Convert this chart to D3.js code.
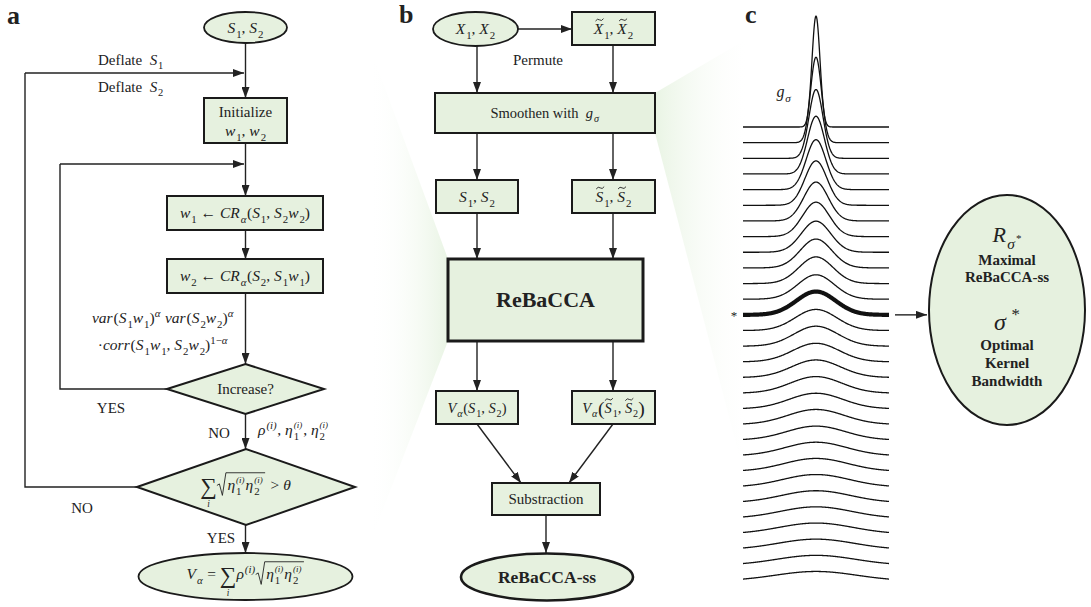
<!DOCTYPE html>
<html>
<head>
<meta charset="utf-8">
<script src="https://cdn.jsdelivr.net/npm/d3@7"></script>
<style>
  body { margin: 0; background: #fff; }
  svg { display: block; }
  text { font-family: "Liberation Serif", "DejaVu Serif", serif; fill: #222; }
</style>
</head>
<body>
<div id="chart"></div>
<script>
// ---- labels (token lists: [text, kind]) ----
const lblS12 = [['S','i'],['1','sub'],[', ','n'],['S','i'],['2','sub']];
const lblDeflate1 = [['Deflate  ','n'],['S','i'],['1','sub']];
const lblDeflate2 = [['Deflate  ','n'],['S','i'],['2','sub']];
const lblInit = [['Initialize','n']];
const lblW12 = [['w','i'],['1','sub'],[', ','n'],['w','i'],['2','sub']];
const lblStep1 = [['w','i'],['1','sub'],[' ← ','n'],['CR','i'],['α','isub'],['(','n'],['S','i'],['1','sub'],[', ','n'],['S','i'],['2','sub'],['w','i'],['2','sub'],[')','n']];
const lblStep2 = [['w','i'],['2','sub'],[' ← ','n'],['CR','i'],['α','isub'],['(','n'],['S','i'],['2','sub'],[', ','n'],['S','i'],['1','sub'],['w','i'],['1','sub'],[')','n']];
const lblVar = [['var','i'],['(','n'],['S','i'],['1','sub'],['w','i'],['1','sub'],[')','n'],['α','isup'],[' ','n'],['var','i'],['(','n'],['S','i'],['2','sub'],['w','i'],['2','sub'],[')','n'],['α','isup']];
const lblCorr = [['·','n'],['corr','i'],['(','n'],['S','i'],['1','sub'],['w','i'],['1','sub'],[', ','n'],['S','i'],['2','sub'],['w','i'],['2','sub'],[')','n'],['1−','sup'],['α','isup']];
const lblIncrease = [['Increase?','n']];
const lblRho = [['ρ','i'],['(i)','isup'],[', ','n'],['η','i'],['1','sub'],['(i)','supx'],[', ','n'],['η','i'],['2','sub'],['(i)','supx']];
const etaProd = [['η','i'],['1','sub'],['(i)','supx'],['η','i'],['2','sub'],['(i)','supx']];
const lblCrit = [['∑','big'],['i','below'],{sqrt: etaProd},[' > ','n'],['θ','i']];
const lblVout = [['V','i'],['α','isub'],[' = ','n'],['∑','big'],['i','below'],['ρ','i'],['(i)','isup'],{sqrt: etaProd}];

const lblX12 = [['X','i'],['1','sub'],[', ','n'],['X','i'],['2','sub']];
const lblXt12 = [['X','ti'],['1','sub'],[', ','n'],['X','ti'],['2','sub']];
const lblPermute = [['Permute','n']];
const lblSmooth = [['Smoothen with  ','n'],['g','i'],['σ','isub']];
const lblSt12 = [['S','ti'],['1','sub'],[', ','n'],['S','ti'],['2','sub']];
const lblReBaCCA = [['ReBaCCA','b']];
const lblV12 = [['V','i'],['α','isub'],['(','n'],['S','i'],['1','sub'],[', ','n'],['S','i'],['2','sub'],[')','n']];
const lblVt12 = [['V','i'],['α','isub'],['(','bigp'],['S','ti'],['1','sub'],[', ','n'],['S','ti'],['2','sub'],[')','bigp']];
const lblSubtr = [['Substraction','n']];
const lblSS = [['ReBaCCA-ss','b']];

const lblG = [['g','i'],['σ','isub']];
const lblR = [['R','i'],['σ','isub'],['*','ssup']];
const lblSigma = [['σ','i'],[' *','sup']];
const lblMax = ['Maximal', 'ReBaCCA-ss'];
const lblOpt = ['Optimal', 'Kernel', 'Bandwidth'];

// ---- kernel family (panel c) ----
const kernelSigma = [4.0, 5.5, 7.0, 8.5, 9.8, 11.0, 12.2, 13.4, 14.6, 15.8, 17.0, 18.2, 19.6, 20.8, 22.0, 23.3, 24.5, 25.8, 27.0, 28.3, 29.5, 30.8, 32.0, 33.3, 34.5, 35.8, 37.0, 38.3, 39.5, 40.8];
const kernelPeak = [1.00, 0.77, 0.62, 0.52, 0.45, 0.40, 0.35, 0.31, 0.28, 0.26, 0.24, 0.22, 0.21, 0.19, 0.18, 0.167, 0.158, 0.149, 0.14, 0.135, 0.126, 0.122, 0.117, 0.113, 0.108, 0.104, 0.099, 0.095, 0.09, 0.086];
const kernelBest = 12;

const W = 1091, H = 607;
const boxFill = "#e6f1df";
const ink = "#222";
const serif = '"Liberation Serif", "DejaVu Serif", serif';

const svg = d3.select("#chart").append("svg").attr("width", W).attr("height", H);
const defs = svg.append("defs");

defs.append("marker").attr("id", "arr")
  .attr("markerUnits", "userSpaceOnUse")
  .attr("markerWidth", 12).attr("markerHeight", 8)
  .attr("refX", 11).attr("refY", 4).attr("orient", "auto")
  .append("path").attr("d", "M0,0 L11,4 L0,8 z").attr("fill", ink);

const gl = defs.append("linearGradient").attr("id", "wedgeL");
gl.append("stop").attr("offset", "0").attr("stop-color", "#ffffff").attr("stop-opacity", 0);
gl.append("stop").attr("offset", "1").attr("stop-color", "#e9f4e4");
const gr = defs.append("linearGradient").attr("id", "wedgeR");
gr.append("stop").attr("offset", "0").attr("stop-color", "#e9f4e4");
gr.append("stop").attr("offset", "1").attr("stop-color", "#ffffff").attr("stop-opacity", 0.2);

// ---- math text helpers ----
const kinds = {
  n:    { s: 1,    dy: 0 },
  i:    { s: 1,    dy: 0, it: 1 },
  b:    { s: 1,    dy: 0, b: 1 },
  ti:   { s: 1,    dy: 0, it: 1 },
  sub:  { s: 0.7,  dy: 0.3 },
  isub: { s: 0.7,  dy: 0.3, it: 1 },
  sup:  { s: 0.7,  dy: -0.42 },
  isup: { s: 0.7,  dy: -0.42, it: 1 },
  supx: { s: 0.58, dy: -0.45, it: 1 },
  ssup: { s: 0.5,  dy: -0.02 },
  big:  { s: 1.5,  dy: 0.24 },
  below:{ s: 0.6,  dy: 1.08, it: 1 },
  bigp: { s: 1.35, dy: 0.12 }
};

function mrow(g, toks, x, fs) {
  let lastStart = x, lastW = 0;
  toks.forEach(tk => {
    if (tk.sqrt) {
      const x1 = x + 9;
      const x2 = mrow(g, tk.sqrt, x1 + 1.5, fs);
      g.append("path")
        .attr("d", `M${x},${-0.3*fs} L${x+2.5},${-0.4*fs} L${x+5.5},${0.34*fs} L${x1},${-1.12*fs} H${x2+1.5}`)
        .attr("fill", "none").attr("stroke", ink).attr("stroke-width", 0.9);
      x = x2 + 3;
      return;
    }
    const [t, k] = tk;
    const st = kinds[k];
    const size = fs * st.s;
    const el = g.append("text")
      .attr("font-family", serif)
      .attr("font-size", size)
      .attr("font-style", st.it ? "italic" : "normal")
      .attr("font-weight", st.b ? "bold" : "normal")
      .attr("y", st.dy * fs)
      .style("white-space", "pre")
      .text(t);
    const w = el.node().getComputedTextLength();
    if (k === "below") {
      el.attr("x", lastStart + lastW / 2).attr("text-anchor", "middle");
      return;
    }
    if (k === "supx") {
      el.attr("x", lastStart);
      x = Math.max(x, lastStart + w + 1);
      return;
    }
    el.attr("x", x);
    if (k === "ti") {
      const cx = x + w * 0.6, ty = -0.92 * fs;
      g.append("path")
        .attr("d", `M${cx-4},${ty+1.2} Q${cx-2},${ty-1.8} ${cx},${ty} T${cx+4},${ty-1.2}`)
        .attr("fill", "none").attr("stroke", ink).attr("stroke-width", 0.9);
    }
    lastStart = x; lastW = w;
    x += w + (st.it ? 0.06 * size : 0);
  });
  return x;
}

function mathLabel(parent, cx, cy, toks, fs, anchor) {
  const g = parent.append("g");
  const w = mrow(g, toks, 0, fs);
  const x0 = anchor === "start" ? cx : anchor === "end" ? cx - w : cx - w / 2;
  g.attr("transform", `translate(${x0},${cy + fs * 0.33})`);
  return g;
}

// ---- shape helpers ----
function box(x, y, w, h, sw) {
  svg.append("rect").attr("x", x).attr("y", y).attr("width", w).attr("height", h)
    .attr("fill", boxFill).attr("stroke", "#1a1a1a").attr("stroke-width", sw || 2);
}
function oval(cx, cy, rx, ry, sw) {
  svg.append("ellipse").attr("cx", cx).attr("cy", cy).attr("rx", rx).attr("ry", ry)
    .attr("fill", boxFill).attr("stroke", "#1a1a1a").attr("stroke-width", sw || 1.8);
}
function diamond(cx, cy, hw, hh) {
  svg.append("path").attr("d", `M${cx-hw},${cy} L${cx},${cy-hh} L${cx+hw},${cy} L${cx},${cy+hh} Z`)
    .attr("fill", boxFill).attr("stroke", "#1a1a1a").attr("stroke-width", 2);
}
function wire(pts, arrow) {
  const p = svg.append("path").attr("d", d3.line()(pts))
    .attr("fill", "none").attr("stroke", ink).attr("stroke-width", 1.4);
  if (arrow) p.attr("marker-end", "url(#arr)");
}

// ---- zoom wedges ----
svg.append("polygon").attr("points", "368,42 448,259 448,341 368,548").attr("fill", "url(#wedgeL)");
svg.append("polygon").attr("points", "655,93 745,40 745,478 655,133").attr("fill", "url(#wedgeR)");

// ---- panel labels ----
[["a", 7, 23.5], ["b", 399, 23], ["c", 745, 23]].forEach(([t, x, y]) => {
  svg.append("text").attr("x", x).attr("y", y).attr("font-family", serif)
    .attr("font-size", 26).attr("font-weight", "bold").text(t);
});

// ================= panel a =================
const fsA = 15.5;
wire([[245.5, 43], [245.5, 98]], true);
wire([[25, 73], [244, 73]], true);
wire([[245.5, 143], [245.5, 196]], true);
wire([[60, 164], [244, 164]], true);
wire([[245.5, 230], [245.5, 259]], true);
wire([[245.5, 293], [245.5, 364]], true);
wire([[167, 389], [60, 389], [60, 164]], false);
wire([[245.5, 414], [245.5, 449]], true);
wire([[137, 487], [25, 487], [25, 73]], false);
wire([[245.5, 525], [245.5, 553]], true);

oval(245.5, 27.5, 41.5, 15.5);
mathLabel(svg, 245.5, 28, lblS12, fsA);
mathLabel(svg, 98, 60, lblDeflate1, 15, "start");
mathLabel(svg, 98, 87, lblDeflate2, 15, "start");

box(204, 98, 83, 45);
mathLabel(svg, 245.5, 112, lblInit, 15);
mathLabel(svg, 245.5, 131, lblW12, fsA);

box(167, 196, 156, 34);
mathLabel(svg, 245, 213, lblStep1, fsA);
box(167, 259, 156, 34);
mathLabel(svg, 245, 276, lblStep2, fsA);

mathLabel(svg, 163, 318, lblVar, fsA);
mathLabel(svg, 163, 345, lblCorr, fsA);

diamond(245.5, 389, 78.5, 25);
mathLabel(svg, 245.5, 389, lblIncrease, 15);
mathLabel(svg, 111, 408, [['YES','n']], 15);
mathLabel(svg, 219, 433, [['NO','n']], 15);
mathLabel(svg, 258, 430, lblRho, fsA, "start");

diamond(246, 487, 109, 38);
mathLabel(svg, 246, 485, lblCrit, fsA);
mathLabel(svg, 82, 508, [['NO','n']], 15);
mathLabel(svg, 221, 538, [['YES','n']], 15);

oval(245.5, 576.5, 107, 23.5);
mathLabel(svg, 246, 574, lblVout, fsA);

// ================= panel b =================
wire([[518, 29], [572, 29]], true);
wire([[477, 46], [477, 93]], true);
wire([[613, 45], [613, 93]], true);
wire([[477, 133], [477, 180]], true);
wire([[613, 133], [613, 180]], true);
wire([[477, 213], [477, 259]], true);
wire([[613, 213], [613, 259]], true);
wire([[477, 341], [477, 391]], true);
wire([[613, 341], [613, 391]], true);
wire([[477, 424], [521, 483]], true);
wire([[613, 424], [569, 483]], true);
wire([[546, 515], [546, 553]], true);

oval(475.5, 29, 42.5, 17);
mathLabel(svg, 475.5, 29, lblX12, fsA);
box(572, 12, 83, 33);
mathLabel(svg, 613.5, 29, lblXt12, fsA);
mathLabel(svg, 538, 60, lblPermute, 15);

box(435, 93, 220, 40);
mathLabel(svg, 545, 113, lblSmooth, 14.5);

box(436, 180, 82, 33);
mathLabel(svg, 477, 197, lblS12, fsA);
box(572, 180, 83, 33);
mathLabel(svg, 613.5, 197, lblSt12, fsA);

box(448, 259, 195, 82, 3);
mathLabel(svg, 545.5, 300, lblReBaCCA, 22);

box(436, 391, 82, 33);
mathLabel(svg, 477, 408, lblV12, 14.5);
box(572, 391, 83, 33);
mathLabel(svg, 613.5, 408, lblVt12, 14.5);

box(492, 483, 108, 32);
mathLabel(svg, 546, 499, lblSubtr, 15);

oval(547, 577, 86, 23.5, 2.6);
mathLabel(svg, 547, 577, lblSS, 17.5);

// ================= panel c =================
const xK = d3.scaleLinear().domain([-73, 73]).range([743, 889]);
const yBase = d3.scaleLinear().domain([0, kernelSigma.length - 1]).range([127, 581]);
const amp = d3.scaleLinear().domain([0, 1]).range([0, 111]);
const offsets = d3.range(-73, 73.5, 0.5);

const curves = svg.append("g");
kernelSigma.forEach((sg, k) => {
  const line = d3.line()
    .x(d => xK(d))
    .y(d => yBase(k) - amp(kernelPeak[k] * Math.exp(-d * d / (2 * sg * sg))));
  curves.append("path")
    .attr("d", line(offsets))
    .attr("fill", "none")
    .attr("stroke", "#111")
    .attr("stroke-width", k === kernelBest ? 4.2 : 1.3)
    .attr("stroke-linejoin", "round");
});

mathLabel(svg, 784, 92, lblG, 16);
svg.append("text").attr("x", 734).attr("y", 320).attr("text-anchor", "middle")
  .attr("font-family", serif).attr("font-size", 13).text("*");
wire([[895, yBase(kernelBest)], [927, yBase(kernelBest)]], true);

oval(1007, 310, 78, 115, 2);
mathLabel(svg, 1007, 235, lblR, 22);
lblMax.forEach((t, i) => mathLabel(svg, 1007, 260 + i * 17.5, [[t, 'b']], 15));
mathLabel(svg, 1007, 322, lblSigma, 24);
lblOpt.forEach((t, i) => mathLabel(svg, 1007, 345 + i * 18, [[t, 'b']], 15));
</script>
</body>
</html>
